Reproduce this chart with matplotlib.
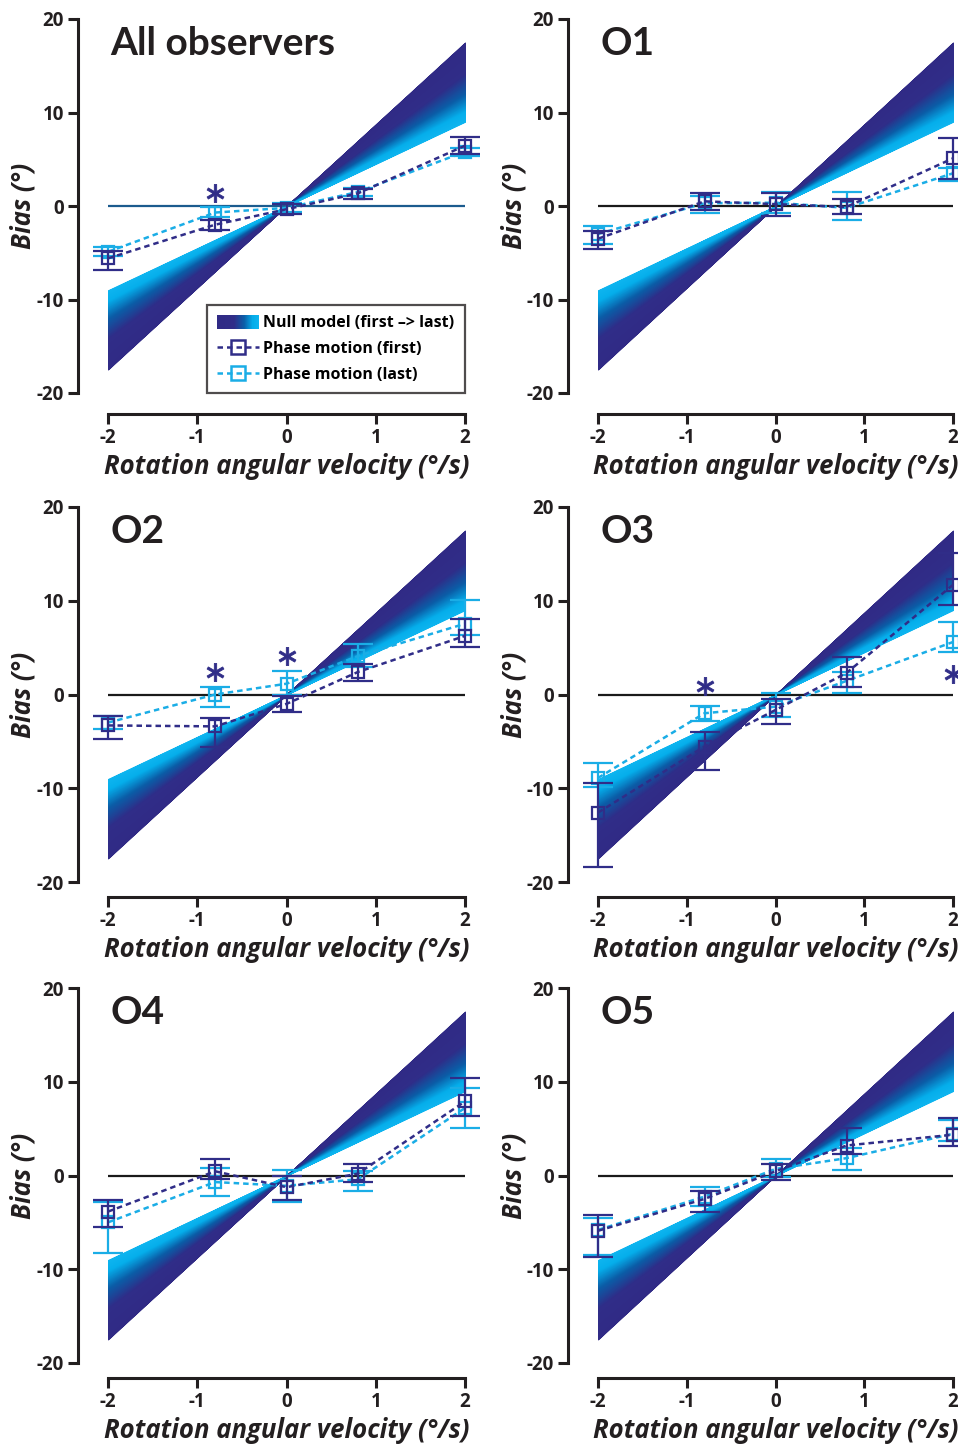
import numpy as np
import matplotlib
matplotlib.use('Agg')
import matplotlib.pyplot as plt
from matplotlib.colors import LinearSegmentedColormap
from matplotlib.legend_handler import HandlerBase
from matplotlib.patches import Rectangle, Patch
from matplotlib.lines import Line2D

plt.rcParams['font.family'] = ['Open Sans', 'DejaVu Sans']
plt.rcParams['axes.unicode_minus'] = False

# rotation angular velocities tested (deg/s)
velocity = [-2, -0.8, 0, 0.8, 2]
panel_titles = ['All observers', 'O1', 'O2', 'O3', 'O4', 'O5']

# phase motion bias (deg), first session: mean, lower and upper error bound
first_bias = [[-5.6, -2.0, -0.35, 1.35, 6.45],
              [-3.5, 0.5, 0.2, -0.1, 5.1],
              [-3.3, -3.4, -1.0, 2.4, 6.25],
              [-12.6, -5.55, -1.65, 2.3, 11.7],
              [-3.85, 0.45, -1.25, 0.2, 7.9],
              [-5.9, -2.5, 0.45, 3.2, 4.35]]
first_lo = [[-6.85, -2.55, -0.9, 0.8, 5.55],
            [-4.6, -0.45, -1.05, -0.9, 2.9],
            [-4.75, -5.55, -1.9, 1.45, 5.05],
            [-18.4, -8.05, -3.15, 0.8, 9.6],
            [-5.45, -0.4, -2.6, -0.65, 6.4],
            [-8.7, -3.85, -0.45, 2.3, 3.2]]
first_hi = [[-4.8, -1.5, 0.2, 1.8, 7.4],
            [-2.65, 1.35, 1.4, 0.7, 7.3],
            [-2.25, -2.55, -0.2, 3.3, 8.1],
            [-9.4, -4.05, -0.45, 4.0, 15.1],
            [-2.65, 1.8, -0.1, 1.25, 10.4],
            [-4.2, -1.7, 1.25, 5.05, 6.1]]

# phase motion bias (deg), last session
last_bias = [[-4.9, -0.7, -0.2, 1.5, 5.8],
             [-3.0, 0.3, 0.35, -0.2, 3.5],
             [-3.0, 0.0, 1.15, 4.1, 7.55],
             [-8.9, -2.0, -1.3, 1.45, 5.6],
             [-5.0, -0.7, -1.1, -0.4, 7.2],
             [-5.8, -2.25, 0.7, 1.85, 4.45]]
last_lo = [[-5.4, -1.2, -0.65, 1.05, 5.4],
           [-4.1, -0.7, -0.7, -1.5, 2.7],
           [-3.65, -1.3, 0.0, 2.9, 6.3],
           [-9.9, -2.8, -2.4, 0.15, 4.55],
           [-8.25, -2.15, -2.8, -1.6, 5.05],
           [-8.5, -3.3, -0.2, 0.6, 3.65]]
last_hi = [[-4.4, -0.15, 0.3, 1.9, 6.2],
           [-2.15, 1.05, 1.5, 1.45, 4.1],
           [-2.25, 0.85, 2.55, 5.35, 10.05],
           [-7.35, -1.25, 0.15, 2.4, 7.75],
           [-2.85, 0.8, 0.6, 0.45, 9.35],
           [-4.55, -1.25, 1.75, 2.9, 5.9]]

# significance stars: panel index, velocity, height
star_panel = [0, 2, 2, 3, 3]
star_x = [-0.8, -0.8, 0, -0.8, 2]
star_y = [1.35, 2.4, 4.15, 0.95, 2.2]

# null model predictions at +2 deg/s (first -> last)
null_first_end = 17.5
null_last_end = 9.0

dark = '#302d88'
light = '#1aade6'
ink = '#231f20'
null_cmap = LinearSegmentedColormap.from_list(
    'null', [(0.0, '#302a85'), (0.4, '#302d88'), (0.66, '#0b5ea8'),
             (0.88, '#05aeeb'), (1.0, '#0db4ef')])


class GradientHandler(HandlerBase):
    def create_artists(self, legend, orig_handle, xdescent, ydescent,
                       width, height, fontsize, trans):
        n = 40
        h = height * 1.3
        y0 = -ydescent - (h - height) / 2
        arts = []
        for i in range(n):
            r = Rectangle((-xdescent + i * width / n, y0), width / n * 1.1, h,
                          facecolor=null_cmap(i / (n - 1)), lw=0,
                          transform=trans)
            arts.append(r)
        return arts


W, H = 958, 1445
fig = plt.figure(figsize=(W / 100, H / 100), dpi=100)

cols_px = [(108, 465), (598, 953)]
rows_px = [(19, 393), (507, 882), (988, 1363)]
bottom_out = [21, 15, 15]
xlabel_y = [-0.16, -0.145, -0.143]

for p, title in enumerate(panel_titles):
    r, c = divmod(p, 2)
    x0, x1 = cols_px[c]
    y0, y1 = rows_px[r]
    ax = fig.add_axes([x0 / W, 1 - y1 / H, (x1 - x0) / W, (y1 - y0) / H])
    ax.set_xlim(-2, 2)
    ax.set_ylim(-20, 20)

    # null model fan
    xs = np.array([-2, 0, 2])
    slopes = np.linspace(null_first_end, null_last_end, 120) / 2
    for i in range(len(slopes) - 1):
        col = null_cmap(i / (len(slopes) - 2))
        ax.fill_between(xs, slopes[i] * xs, slopes[i + 1] * xs,
                        color=col, lw=0.6, zorder=1)

    zero_col = '#1b5b8e' if p == 0 else '#1a1a1a'
    ax.axhline(0, color=zero_col, lw=1.6, zorder=2)

    for vals, lo, hi, col, z in [(last_bias[p], last_lo[p], last_hi[p], light, 3),
                                 (first_bias[p], first_lo[p], first_hi[p], dark, 4)]:
        vals = np.array(vals)
        yerr = [vals - np.array(lo), np.array(hi) - vals]
        ax.errorbar(velocity, vals, yerr=yerr, color=col, lw=1.8,
                    dashes=(2.2, 1.6), marker='s', ms=8.5, mfc='none',
                    mec=col, mew=1.6, capsize=10.5, capthick=1.7,
                    elinewidth=1.6, clip_on=False, zorder=z)

    sx = [x for sp, x in zip(star_panel, star_x) if sp == p]
    sy = [y for sp, y in zip(star_panel, star_y) if sp == p]
    if sx:
        ax.plot(sx, sy, ls='none', marker=r'$\ast$', ms=13, color=dark,
                mec=dark, mew=0.6, clip_on=False, zorder=5)

    ax.text(0.006, 0.905, title, transform=ax.transAxes, fontsize=28,
            fontweight='bold', color=ink, va='baseline', ha='left',
            family=['Lato', 'DejaVu Sans'])

    for s in ['top', 'right']:
        ax.spines[s].set_visible(False)
    ax.spines['left'].set_position(('outward', 30 * 0.72))
    ax.spines['bottom'].set_position(('outward', bottom_out[r] * 0.72))
    ax.spines['left'].set_bounds(-20, 20)
    ax.spines['bottom'].set_bounds(-2, 2)
    for s in ['left', 'bottom']:
        ax.spines[s].set_linewidth(2.2)
        ax.spines[s].set_color(ink)
    ax.set_yticks([-20, -10, 0, 10, 20])
    ax.set_xticks([-2, -1, 0, 1, 2])
    ax.tick_params(length=7, width=2.2, labelsize=13.5, pad=3,
                   color=ink, labelcolor=ink)
    for lab in ax.get_xticklabels() + ax.get_yticklabels():
        lab.set_fontweight('bold')

    ax.set_xlabel('Rotation angular velocity (°/s)', fontsize=18.5,
                  fontweight='bold', style='italic', color=ink)
    ax.set_ylabel('Bias (°)', fontsize=18.5, fontweight='bold',
                  style='italic', color=ink)
    ax.xaxis.set_label_coords(0.5, xlabel_y[r])
    ax.yaxis.set_label_coords(-0.2, 0.5)

    if p == 0:
        proxy = Patch()
        h_first = Line2D([], [], color=dark, lw=1.8, dashes=(2.2, 1.6),
                         marker='s', ms=10, mfc='none', mec=dark, mew=1.8)
        h_last = Line2D([], [], color=light, lw=1.8, dashes=(2.2, 1.6),
                        marker='s', ms=10, mfc='none', mec=light, mew=1.8)
        leg = ax.legend([proxy, h_first, h_last],
                        ['Null model (first –> last)', 'Phase motion (first)',
                         'Phase motion (last)'],
                        handler_map={proxy: GradientHandler()},
                        loc='lower right', bbox_to_anchor=(1.0, 0.0),
                        borderaxespad=0, fontsize=11.5, frameon=True,
                        fancybox=False, edgecolor=ink,
                        handlelength=2.6, handletextpad=0.3,
                        labelspacing=0.6, borderpad=0.65)
        leg.get_frame().set_linewidth(1.6)
        for t in leg.get_texts():
            t.set_fontweight('bold')
        leg.set_zorder(10)

fig.savefig('out.png', dpi=100)
